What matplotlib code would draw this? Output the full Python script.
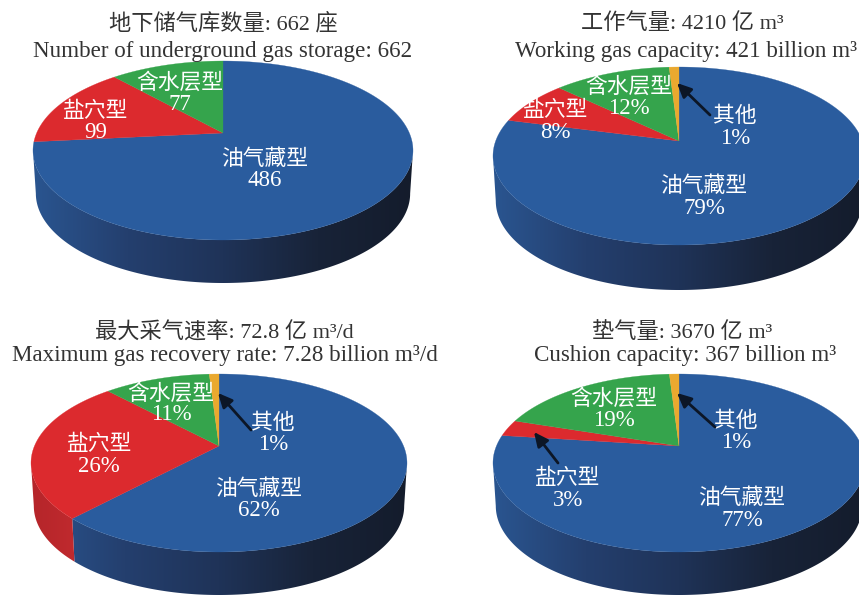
import matplotlib
matplotlib.use("Agg")
import matplotlib.pyplot as plt
import numpy as np
from matplotlib.colors import LinearSegmentedColormap
from matplotlib.patches import Polygon

# Config
FONT = ['Liberation Serif', 'Noto Sans CJK SC', 'DejaVu Sans']
plt.rcParams['font.family'] = FONT

NAME_OIL = "油气藏型"
NAME_SALT = "盐穴型"
NAME_AQUIFER = "含水层型"
NAME_OTHER = "其他"

# Storage data, clockwise from twelve o'clock
count_names = [NAME_OIL, NAME_SALT, NAME_AQUIFER]
count_values = [486, 99, 77]

share_names = [NAME_OIL, NAME_SALT, NAME_AQUIFER, NAME_OTHER]
working_values = [79, 8, 12, 1]
recovery_values = [62, 26, 11, 1]
cushion_values = [77, 3, 19, 1]

count_titles = ["地下储气库数量: 662 座", "Number of underground gas storage: 662"]
working_titles = ["工作气量: 4210 亿 m³", "Working gas capacity: 421 billion m³"]
recovery_titles = ["最大采气速率: 72.8 亿 m³/d", "Maximum gas recovery rate: 7.28 billion m³/d"]
cushion_titles = ["垫气量: 3670 亿 m³", "Cushion capacity: 367 billion m³"]

TOP_COLORS = {NAME_OIL: '#2a5c9e', NAME_SALT: '#dc2a2e',
              NAME_AQUIFER: '#35a44c', NAME_OTHER: '#eaa92f'}
WALL_COLORS = {
    NAME_OIL: ['#2a5590', '#243f6e', '#1f3358', '#182338', '#141c2c'],
    NAME_SALT: ['#b5252a', '#c02a2e'],
    NAME_AQUIFER: ['#2a8a40', '#2a8a40'],
    NAME_OTHER: ['#c08a25', '#c08a25'],
}

fig = plt.figure(figsize=(8.59, 5.97), dpi=100)
ax = fig.add_axes([0, 0, 1, 1])


def rim(t, cx, cy, a, b, k):
    # perspective view of the pie rim, t is clockwise angle from the top
    u, v = np.sin(t), np.cos(t)
    w = 1 + k * v
    return cx + a * u / w, cy - b * v / w


def draw_pie(values, names, cx, cy, rx, up, down, depth):
    k = (down / up - 1) / (down / up + 1)
    b = up * (1 + k)
    a = rx * np.sqrt(1 - k * k)
    edges = np.cumsum([0] + list(values)) / sum(values) * 2 * np.pi

    # side wall, only the part that faces the viewer
    front_start = np.arccos(-k)
    front_end = 2 * np.pi - front_start
    gradient = np.linspace(0, 1, 256).reshape(1, -1)
    for i, name in enumerate(names):
        start = max(edges[i], front_start)
        end = min(edges[i + 1], front_end)
        if end <= start:
            continue
        t = np.linspace(start, end, 200)
        x, y = rim(t, cx, cy, a, b, k)
        x2 = cx + (x - cx) * 0.985
        y2 = y + depth
        outline = np.c_[np.r_[x, x2[::-1]], np.r_[y, y2[::-1]]]
        cmap = LinearSegmentedColormap.from_list(name, WALL_COLORS[name])
        if name == NAME_OIL:
            extent = (cx - rx, cx + rx, cy + down + depth, cy)
        else:
            extent = (outline[:, 0].min(), outline[:, 0].max(), cy + down + depth, cy)
        im = ax.imshow(gradient, cmap=cmap, extent=extent, aspect='auto', zorder=2)
        im.set_clip_path(Polygon(outline, closed=True, transform=ax.transData))

    # top face
    for i, name in enumerate(names):
        t = np.linspace(edges[i], edges[i + 1], max(int((edges[i + 1] - edges[i]) * 60), 2))
        x, y = rim(t, cx, cy, a, b, k)
        ax.fill(np.r_[cx, x], np.r_[cy, y], facecolor=TOP_COLORS[name],
                edgecolor=TOP_COLORS[name], linewidth=0.2, zorder=3)


def label(x, y, name, value, suffix="%"):
    ax.text(x, y + 2, name, ha='center', va='center', color='white', fontsize=15.7,
            fontweight='light', zorder=5)
    ax.text(x, y + 23, f"{value}{suffix}", ha='center', va='center', color='white',
            fontsize=16.5, zorder=5)


def title(x1, y1, x2, y2, lines):
    ax.text(x1, y1 + 2, lines[0], ha='center', va='center', color='#333333', fontsize=16,
            fontweight='light')
    ax.text(x2, y2 + 2, lines[1], ha='center', va='center', color='#333333', fontsize=16.6)


def arrow(tail, tip):
    ax.annotate("", xy=tip, xytext=tail, zorder=6,
                arrowprops=dict(arrowstyle='-|>,head_width=0.4,head_length=0.85',
                                color='#0c1626', lw=2, shrinkA=0, shrinkB=0))


# Number of storage sites
draw_pie(count_values, count_names, 223, 133, 190, 72, 107, 43)
title(223, 22, 223, 49, count_titles)
label(265, 158, NAME_OIL, count_values[0], "")
label(96, 110, NAME_SALT, count_values[1], "")
label(180, 81, NAME_AQUIFER, count_values[2], "")

# Working gas
draw_pie(working_values, share_names, 679, 141, 186, 74, 104, 45)
title(682, 22, 686, 49, working_titles)
label(704, 185, NAME_OIL, working_values[0])
label(555, 109, NAME_SALT, working_values[1])
label(629, 85, NAME_AQUIFER, working_values[2])
label(735, 115, NAME_OTHER, working_values[3])
arrow((710, 115), (677, 83))

# Maximum recovery rate
draw_pie(recovery_values, share_names, 219, 446, 188, 72, 106, 43)
title(224, 331, 225, 354, recovery_titles)
label(259, 488, NAME_OIL, recovery_values[0])
label(99, 443, NAME_SALT, recovery_values[1])
label(171, 392, NAME_AQUIFER, recovery_values[2])
label(273, 422, NAME_OTHER, recovery_values[3])
arrow((251, 430), (218, 393))

# Cushion gas
draw_pie(cushion_values, share_names, 679, 446, 186, 72, 106, 43)
title(682, 331, 685, 354, cushion_titles)
label(742, 497, NAME_OIL, cushion_values[0])
label(568, 477, NAME_SALT, cushion_values[1])
label(614, 397, NAME_AQUIFER, cushion_values[2])
label(736, 420, NAME_OTHER, cushion_values[3])
arrow((715, 427), (677, 393))
arrow((558, 463), (534, 432))

ax.set_xlim(0, 859)
ax.set_ylim(597, 0)
ax.axis('off')

plt.savefig("out.png", dpi=100)
